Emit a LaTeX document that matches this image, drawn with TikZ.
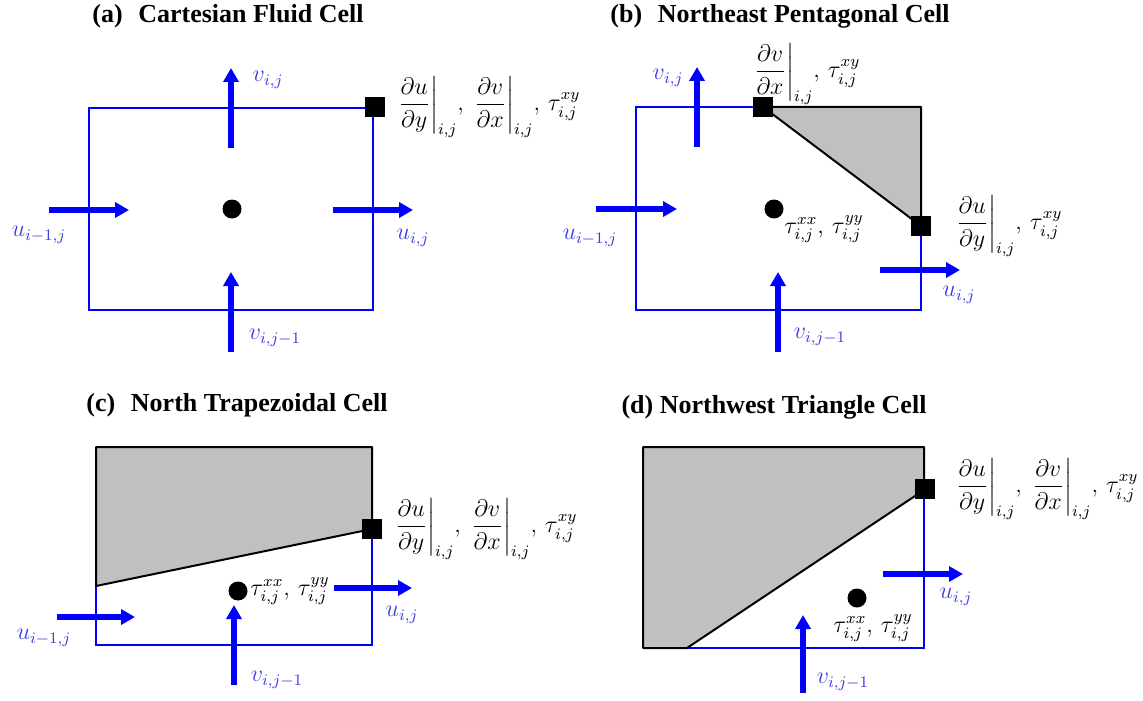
\documentclass[tikz,border=0pt]{standalone}
\usepackage{amsmath}
\usepackage[no-math]{fontspec}
\setmainfont{Liberation Serif}
\usetikzlibrary{arrows.meta, positioning}

\definecolor{fluxblue}{RGB}{0,0,255}
\definecolor{labelblue}{RGB}{60,60,225}
\definecolor{bodygray}{RGB}{192,192,192}

\newcommand{\dudy}{{\left.\dfrac{\partial u}{\partial y}\right|_{i,j}}}
\newcommand{\dvdx}{{\left.\dfrac{\partial v}{\partial x}\right|_{i,j}}}

\begin{document}
\begin{tikzpicture}[x=0.5pt, y=-0.5pt]
        \tikzstyle{cell} = [draw=fluxblue, line width=1pt]
        \tikzstyle{bodyfill} = [draw=black, fill=bodygray, line width=1pt, line join=round]
        \tikzstyle{flux} = [draw=fluxblue, line width=2.6pt, -{Triangle[length=7pt, width=7.5pt]}]
        \tikzstyle{face} = [rectangle, fill=black, minimum size=10pt, inner sep=0pt]
        \tikzstyle{centre} = [circle, fill=black, minimum size=9.5pt, inner sep=0pt]
        \tikzstyle{vel} = [text=labelblue, font=\fontsize{12}{14}\selectfont]
        \tikzstyle{stress} = [text=black, font=\fontsize{12}{14}\selectfont, inner sep=0pt]
        \tikzstyle{paneltitle} = [font=\fontsize{13}{15}\selectfont\bfseries]

        \useasboundingbox (0,0) rectangle (1143,700);

        \node (titleA) [paneltitle] at (228,16) {(a)\hspace{0.6em}Cartesian Fluid Cell};
        \draw [cell] (89,108) rectangle (373,310);
        \node (dotA) [centre] at (232,209) {};
        \node (sqA) [face] at (375,107) {};
        \node (derivA) [stress, right=5pt of sqA] {$\dudy,\,\dvdx,\,\tau_{i,j}^{xy}$};
        \coordinate (vAn0) at (231,148); \coordinate (vAn1) at (231,68);
        \coordinate (uAw0) at (49,210); \coordinate (uAw1) at (129,210);
        \coordinate (uAe0) at (333,210); \coordinate (uAe1) at (413,210);
        \coordinate (vAs0) at (231,352); \coordinate (vAs1) at (231,272);
        \draw [flux] (vAn0) -- (vAn1);
        \draw [flux] (uAw0) -- (uAw1);
        \draw [flux] (uAe0) -- (uAe1);
        \draw [flux] (vAs0) -- (vAs1);
        \node (lvnA) [vel] at (268,80) {$v_{i,j}$};
        \node (luwA) [vel] at (39,235) {$u_{i-1,j}$};
        \node (lueA) [vel] at (413,238) {$u_{i,j}$};
        \node (lvsA) [vel] at (275,338) {$v_{i,j-1}$};

        \node (titleB) [paneltitle] at (780,16) {(b)\hspace{0.6em}Northeast Pentagonal Cell};
        \draw [cell] (763,107) -- (636,107) -- (636,310) -- (921,310) -- (921,226);
        \draw [bodyfill] (763,107) -- (921,107) -- (921,226) -- cycle;
        \node (dotB) [centre] at (774,209) {};
        \node (sqBn) [face] at (763,107) {};
        \node (sqBe) [face] at (921,226) {};
        \node (derivBn) [stress] at (806,74) {$\dvdx,\,\tau_{i,j}^{xy}$};
        \node (derivBe) [stress, right=11pt of sqBe] {$\dudy,\,\tau_{i,j}^{xy}$};
        \node (stressB) [stress] at (824,229) {$\tau_{i,j}^{xx},\,\tau_{i,j}^{yy}$};
        \coordinate (vBn0) at (697,147); \coordinate (vBn1) at (697,67);
        \coordinate (uBw0) at (596,209); \coordinate (uBw1) at (677,209);
        \coordinate (uBe0) at (880,270); \coordinate (uBe1) at (960,270);
        \coordinate (vBs0) at (778,352); \coordinate (vBs1) at (778,272);
        \draw [flux] (vBn0) -- (vBn1);
        \draw [flux] (uBw0) -- (uBw1);
        \draw [flux] (uBe0) -- (uBe1);
        \draw [flux] (vBs0) -- (vBs1);
        \node (lvnB) [vel] at (668,78) {$v_{i,j}$};
        \node (luwB) [vel] at (590,238) {$u_{i-1,j}$};
        \node (lueB) [vel] at (959,295) {$u_{i,j}$};
        \node (lvsB) [vel] at (820,337) {$v_{i,j-1}$};

        \node (titleC) [paneltitle] at (237,405) {(c)\hspace{0.6em}North Trapezoidal Cell};
        \draw [cell] (96,586) -- (96,645) -- (372,645) -- (372,529);
        \draw [bodyfill] (96,447) -- (372,447) -- (372,529) -- (96,586) -- cycle;
        \node (dotC) [centre] at (238,591) {};
        \node (sqC) [face] at (372,529) {};
        \node (derivC) [stress, right=5pt of sqC] {$\dudy,\,\dvdx,\,\tau_{i,j}^{xy}$};
        \node (stressC) [stress, right=1pt of dotC] {$\tau_{i,j}^{xx},\,\tau_{i,j}^{yy}$};
        \coordinate (uCw0) at (57,617); \coordinate (uCw1) at (135,617);
        \coordinate (uCe0) at (334,588); \coordinate (uCe1) at (412,588);
        \coordinate (vCs0) at (234,685); \coordinate (vCs1) at (234,605);
        \draw [flux] (uCw0) -- (uCw1);
        \draw [flux] (uCe0) -- (uCe1);
        \draw [flux] (vCs0) -- (vCs1);
        \node (luwC) [vel] at (44,638) {$u_{i-1,j}$};
        \node (lueC) [vel] at (402,615) {$u_{i,j}$};
        \node (lvsC) [vel] at (277,680) {$v_{i,j-1}$};

        \node (titleD) [paneltitle] at (774,407) {(d) Northwest Triangle Cell};
        \draw [cell] (687,648) -- (924,648) -- (924,490);
        \draw [bodyfill] (643,447) -- (924,447) -- (924,490) -- (687,648) -- (643,648) -- cycle;
        \node (dotD) [centre] at (857,598) {};
        \node (sqD) [face] at (925,489) {};
        \node (derivD) [stress, right=9pt of sqD] {$\dudy,\,\dvdx,\,\tau_{i,j}^{xy}$};
        \node (stressD) [stress] at (873,628) {$\tau_{i,j}^{xx},\,\tau_{i,j}^{yy}$};
        \coordinate (uDe0) at (883,574); \coordinate (uDe1) at (963,574);
        \coordinate (vDs0) at (803,693); \coordinate (vDs1) at (803,615);
        \draw [flux] (uDe0) -- (uDe1);
        \draw [flux] (vDs0) -- (vDs1);
        \node (lueD) [vel] at (956,597) {$u_{i,j}$};
        \node (lvsD) [vel] at (843,682) {$v_{i,j-1}$};
    \end{tikzpicture}
\end{document}
